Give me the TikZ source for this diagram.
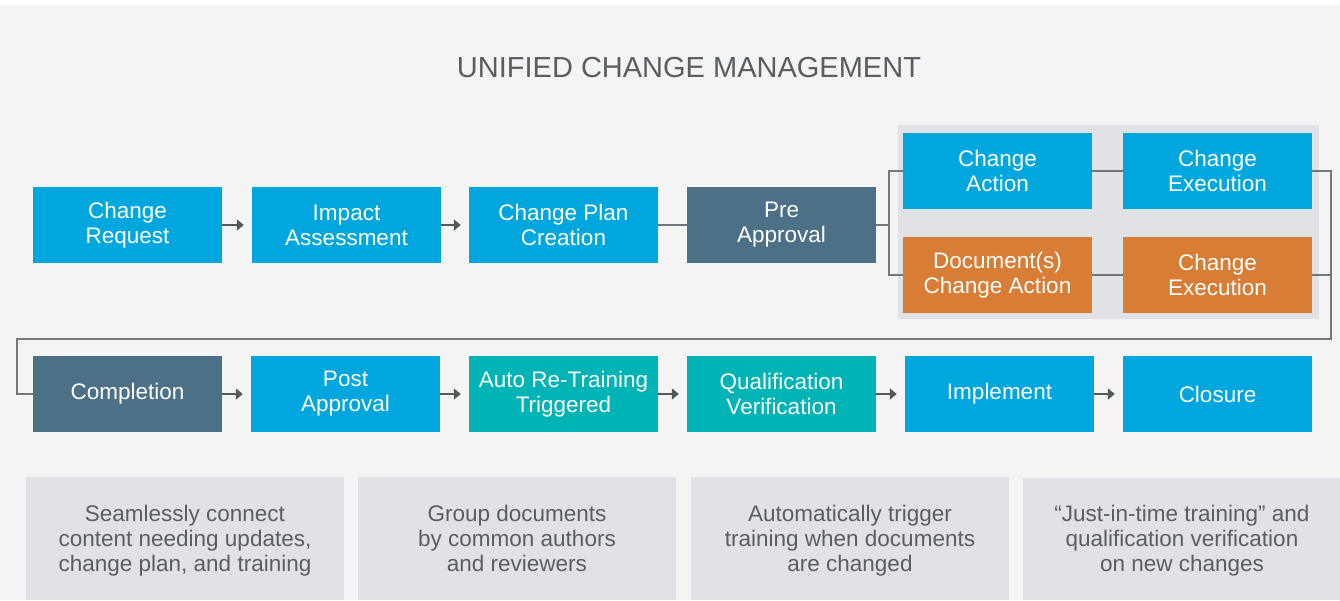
\documentclass[tikz,border=0pt]{standalone}
\usepackage{fontspec}
\setmainfont{Liberation Sans}
\usepackage{tikz}
\usetikzlibrary{arrows.meta}
\definecolor{ucblue}{HTML}{00A7DF}
\definecolor{ucslate}{HTML}{4C7086}
\definecolor{ucorange}{HTML}{D87D35}
\definecolor{ucteal}{HTML}{00B3B5}
\definecolor{ucpanel}{HTML}{E1E2E5}
\definecolor{ucback}{HTML}{F4F4F4}
\definecolor{ucline}{HTML}{72777A}
\definecolor{ucarrow}{HTML}{53585B}
\definecolor{uctext}{HTML}{585E61}
\tikzset{
	stepbox/.style  = {rectangle, inner sep=0pt, minimum width=189pt,
		minimum height=76pt, text=white, align=center,
		font=\fontsize{22.5}{25}\selectfont},
	bluebox/.style   = {stepbox, fill=ucblue},
	slatebox/.style  = {stepbox, fill=ucslate},
	orangebox/.style = {stepbox, fill=ucorange},
	tealbox/.style   = {stepbox, fill=ucteal},
	note/.style     = {align=center, text=uctext,
		font=\fontsize{22.5}{25}\selectfont,
		execute at begin node=\strut, execute at end node=\strut},
	link/.style     = {draw=ucline, line width=1.6pt},
	flow/.style     = {draw=ucarrow, line width=2pt, shorten >=8pt,
		-{Triangle[length=7pt,width=11pt]}}
}
\begin{document}
\begin{tikzpicture}[x=1pt, y=-1pt]
	\useasboundingbox (0,0) rectangle (1340,600);
	\fill[white] (0,0) rectangle (1340,600);
	\fill[ucback] (0,5) rectangle (1340,600);
	\node[text=uctext, font=\fontsize{29}{32}\selectfont] (title) at (689,68) {UNIFIED CHANGE MANAGEMENT};
	
	% top row
	\draw
	node at (127.5,225) [bluebox] (cr) {Change\\Request}
	node at (346.5,225) [bluebox] (ia) {Impact\\Assessment}
	node at (563.5,225) [bluebox] (cp) {Change Plan\\Creation}
	node at (781.5,225) [slatebox] (pa) {Pre\\Approval};
	
	\fill[ucpanel] (898,125) rectangle (1319,319);
	\draw
	node at (997.5,171) [bluebox] (ca) {Change\\Action}
	node at (1217.5,171) [bluebox] (ce1) {Change\\Execution}
	node at (997.5,275) [orangebox] (dca) {Document(s)\\Change Action}
	node at (1217.5,275) [orangebox] (ce2) {Change\\Execution};
	
	% bottom row
	\draw
	node at (127.5,394) [slatebox] (co) {Completion}
	node at (345.5,394) [bluebox] (po) {Post\\Approval}
	node at (563.5,394) [tealbox] (ar) {Auto Re-Training\\Triggered}
	node at (781.5,394) [tealbox] (qv) {Qualification\\Verification}
	node at (999.5,394) [bluebox] (im) {Implement}
	node at (1217.5,394) [bluebox] (cl) {Closure};
	
	\coordinate (fork) at (889,225);
	\coordinate (rt) at (1331,339);
	\coordinate (lt) at (17,339);
	
	\draw[flow] (cr) -- (ia);
	\draw[flow] (ia) -- (cp);
	\draw[link] (cp) -- (pa);
	\draw[link] (pa) -- (fork);
	\draw[link] (ca.west) -| (fork) |- (dca.west);
	\draw[link] (ca) -- (ce1);
	\draw[link] (dca) -- (ce2);
	\draw[link] (ce1.east) -| (rt) -- (lt) |- (co.west);
	\draw[link] (ce2.east) -- (ce2.east -| rt);
	\draw[flow] (co) -- (po);
	\draw[flow] (po) -- (ar);
	\draw[flow] (ar) -- (qv);
	\draw[flow] (qv) -- (im);
	\draw[flow] (im) -- (cl);
	
	% notes
	\fill[ucpanel] (26,477) rectangle (344,600);
	\fill[ucpanel] (358,477) rectangle (676,600);
	\fill[ucpanel] (691,477) rectangle (1009,600);
	\fill[ucpanel] (1023,478) rectangle (1341,600);
	\draw
	node at (185,542) [note] (n1) {Seamlessly connect\\content needing updates,\\change plan, and training}
	node at (517,542) [note] (n2) {Group documents\\by common authors\\and reviewers}
	node at (850,542) [note] (n3) {Automatically trigger\\training when documents\\are changed}
	node at (1182,542) [note] (n4) {“Just-in-time training” and\\qualification verification\\on new changes};
\end{tikzpicture}
\end{document}
